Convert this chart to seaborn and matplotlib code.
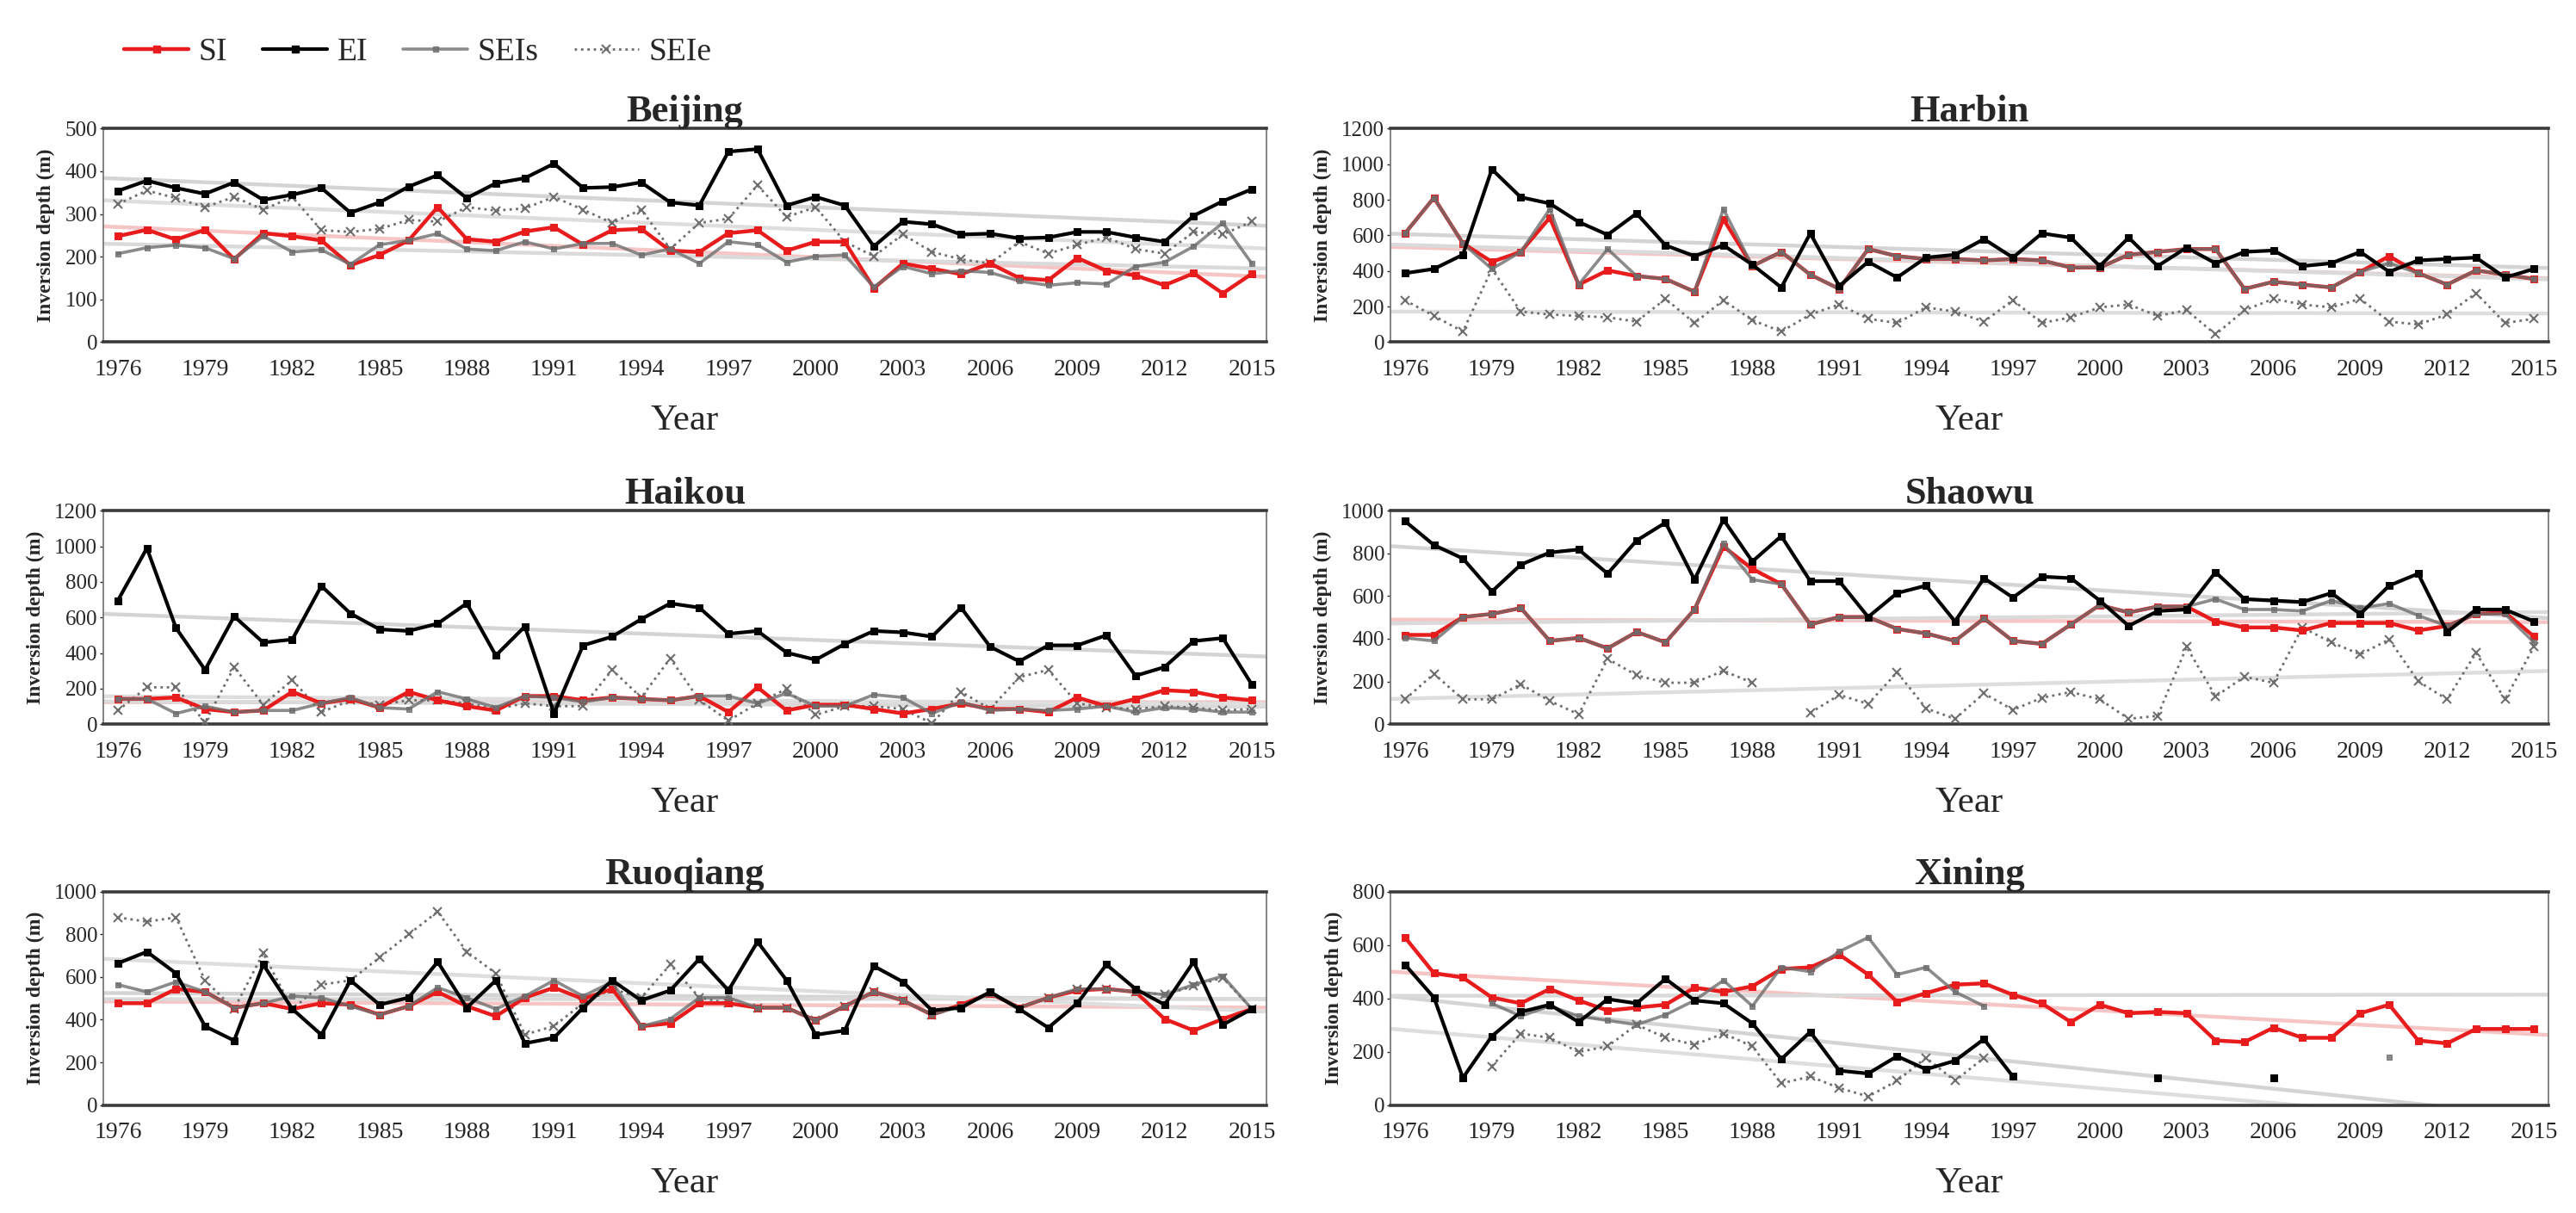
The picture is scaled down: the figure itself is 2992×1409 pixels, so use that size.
import numpy as np
import pandas as pd
import seaborn as sns
import matplotlib.pyplot as plt
from matplotlib.lines import Line2D

nan = np.nan
years = list(range(1976, 2016))

# Inversion depth (m), 1976-2015
beijing_si = [248, 263, 240, 263, 194, 255, 248, 238, 180, 204, 238, 316, 241, 235, 259, 269, 228, 262, 265, 214,
              211, 255, 262, 214, 235, 235, 126, 184, 172, 159, 184, 150, 145, 197, 167, 156, 133, 161, 114, 160]
beijing_ei = [354, 378, 361, 347, 374, 333, 345, 361, 303, 327, 364, 391, 337, 372, 384, 418, 361, 363, 374, 327,
              320, 446, 452, 320, 340, 320, 224, 282, 276, 252, 254, 243, 245, 258, 258, 245, 235, 296, 330, 358]
beijing_seis = [207, 221, 227, 221, 195, 248, 211, 216, 182, 228, 238, 254, 218, 214, 235, 218, 231, 231, 204, 218,
                184, 235, 228, 187, 201, 204, 129, 177, 160, 167, 163, 143, 133, 139, 136, 177, 187, 224, 279, 184]
beijing_seie = [323, 355, 337, 316, 340, 310, 340, 262, 258, 265, 286, 282, 316, 308, 313, 340, 310, 279, 310, 218,
                279, 289, 367, 293, 316, 235, 201, 252, 211, 194, 184, 235, 207, 228, 245, 218, 207, 258, 252, 282]

harbin_si = [611, 811, 555, 451, 507, 699, 323, 403, 371, 355, 283, 691, 427, 507, 379, 299, 523, 483, 467, 467,
             459, 467, 459, 419, 419, 491, 507, 523, 523, 299, 339, 323, 307, 395, 483, 387, 323, 403, 379, 355]
harbin_ei = [387, 411, 491, 971, 814, 779, 675, 603, 723, 544, 483, 544, 435, 307, 611, 315, 451, 363, 475, 491,
             579, 475, 611, 587, 427, 587, 427, 531, 443, 507, 515, 427, 443, 507, 395, 459, 467, 475, 363, 411]
harbin_seis = [611, 811, 555, 411, 507, 747, 323, 523, 371, 355, 283, 747, 427, 507, 379, 299, 523, 483, 467, 467,
               459, 467, 459, 419, 419, 491, 507, 523, 523, 299, 339, 323, 307, 395, 443, 387, 323, 403, 379, 355]
harbin_seie = [235, 147, 59, 411, 171, 155, 147, 139, 115, 243, 107, 235, 123, 59, 155, 211, 131, 107, 195, 171,
               115, 235, 107, 139, 195, 211, 147, 179, 43, 179, 243, 211, 195, 243, 115, 99, 155, 275, 107, 131]

haikou_si = [142, 142, 150, 85, 68, 77, 182, 117, 142, 93, 182, 134, 101, 77, 158, 158, 134, 150, 142, 134,
             158, 68, 207, 77, 109, 109, 85, 60, 85, 117, 85, 85, 68, 150, 101, 142, 191, 182, 150, 134]
haikou_ei = [695, 989, 541, 305, 606, 459, 476, 777, 622, 533, 524, 565, 679, 386, 549, 60, 443, 492, 590, 679,
             655, 508, 524, 402, 362, 451, 524, 516, 492, 655, 435, 353, 443, 443, 500, 272, 321, 467, 484, 223]
haikou_seis = [142, 142, 60, 101, 68, 77, 77, 117, 150, 93, 85, 182, 142, 93, 158, 150, 125, 150, 142, 134,
               158, 158, 117, 174, 101, 101, 166, 150, 60, 125, 77, 85, 77, 85, 101, 68, 93, 85, 68, 68]
haikou_seie = [77, 207, 207, 10, 321, 109, 248, 68, 134, 109, 134, 134, 117, 85, 117, 101, 101, 305, 150, 370,
               134, 20, 117, 199, 52, 101, 101, 85, 5, 182, 85, 264, 305, 117, 93, 85, 101, 93, 77, 85]

shaowu_si = [418, 418, 502, 516, 544, 390, 404, 355, 432, 383, 537, 832, 727, 656, 467, 502, 502, 446, 425, 390,
             495, 390, 376, 467, 558, 523, 551, 551, 481, 453, 453, 439, 474, 474, 474, 439, 460, 516, 523, 411]
shaowu_ei = [951, 839, 776, 621, 747, 804, 818, 705, 860, 944, 677, 958, 762, 881, 670, 670, 502, 614, 649, 481,
             684, 593, 691, 684, 579, 460, 530, 537, 712, 586, 579, 572, 614, 516, 649, 705, 432, 537, 537, 481]
shaowu_seis = [404, 390, 502, 516, 544, 390, 404, 355, 432, 383, 537, 846, 677, 656, 467, 502, 502, 446, 425, 390,
               495, 390, 376, 467, 558, 523, 551, 551, 586, 537, 537, 530, 579, 544, 565, 509, 460, 516, 516, 383]
shaowu_seie = [116, 236, 116, 116, 187, 109, 46, 306, 229, 194, 194, 250, 194, nan, 53, 137, 95, 243, 74, 25,
               144, 67, 123, 151, 116, 25, 39, 362, 130, 222, 194, 453, 383, 327, 397, 201, 116, 334, 116, 362]

ruoqiang_si = [477, 477, 544, 530, 456, 477, 450, 477, 470, 423, 463, 530, 463, 416, 503, 550, 497, 544, 369, 383,
               477, 477, 456, 456, 396, 463, 530, 490, 423, 470, 523, 456, 503, 537, 544, 530, 403, 349, 403, 450]
ruoqiang_ei = [664, 718, 617, 369, 302, 658, 450, 329, 584, 470, 503, 671, 456, 584, 289, 315, 456, 584, 490, 537,
               685, 537, 765, 584, 329, 349, 651, 577, 443, 456, 530, 450, 362, 477, 658, 544, 470, 671, 376, 450]
ruoqiang_seis = [564, 530, 577, 530, 456, 477, 510, 503, 463, 423, 463, 550, 503, 450, 510, 584, 510, 577, 369, 403,
                 503, 503, 456, 456, 396, 463, 530, 490, 423, 463, 523, 456, 503, 544, 544, 530, 517, 564, 604, 450]
ruoqiang_seie = [879, 859, 879, 584, 450, 711, 450, 564, 584, 691, 799, 906, 718, 617, 330, 370, 477, 544, 503, 658,
                 503, 477, 456, 456, 396, 463, 530, 490, 423, 463, 523, 456, 503, 544, 544, 530, 517, 557, 597, 450]

xining_si = [628, 494, 478, 403, 381, 435, 392, 354, 365, 376, 440, 424, 445, 510, 516, 564, 489, 387, 419, 451,
             456, 413, 381, 311, 376, 344, 349, 344, 242, 236, 290, 252, 252, 344, 376, 242, 231, 285, 285, 285]
xining_ei = [526, 403, 102, 258, 349, 376, 311, 397, 381, 473, 392, 381, 306, 172, 274, 129, 118, 183, 134, 166,
             247, 107, nan, nan, nan, nan, 102, nan, nan, nan, 102, nan, nan, nan, nan, nan, nan, nan, nan, nan]
xining_seis = [nan, nan, nan, 381, 333, 371, 333, 317, 301, 338, 392, 467, 371, 516, 500, 575, 628, 489, 516, 424,
               371, nan, nan, nan, nan, nan, nan, nan, nan, nan, nan, nan, nan, nan, 180, nan, nan, nan, nan, nan]
xining_seie = [nan, nan, nan, 145, 268, 252, 199, 220, 301, 252, 226, 268, 220, 81, 107, 64, 32, 91, 177, 91,
               177, nan, nan, nan, nan, nan, nan, nan, nan, nan, nan, nan, nan, nan, nan, nan, nan, nan, nan, nan]

stations = ["Beijing", "Harbin", "Haikou", "Shaowu", "Ruoqiang", "Xining"]
series_names = ["SI", "EI", "SEIs", "SEIe"]
data = {
    "Beijing": [beijing_si, beijing_ei, beijing_seis, beijing_seie],
    "Harbin": [harbin_si, harbin_ei, harbin_seis, harbin_seie],
    "Haikou": [haikou_si, haikou_ei, haikou_seis, haikou_seie],
    "Shaowu": [shaowu_si, shaowu_ei, shaowu_seis, shaowu_seie],
    "Ruoqiang": [ruoqiang_si, ruoqiang_ei, ruoqiang_seis, ruoqiang_seie],
    "Xining": [xining_si, xining_ei, xining_seis, xining_seie],
}
y_max = {"Beijing": 500, "Harbin": 1200, "Haikou": 1200, "Shaowu": 1000, "Ruoqiang": 1000, "Xining": 800}
y_step = {"Beijing": 100, "Harbin": 200, "Haikou": 200, "Shaowu": 200, "Ruoqiang": 200, "Xining": 200}

styles = {
    "SI": dict(color="#e81c1c", lw=3.2, marker="s", ms=6, mec="#e81c1c", zorder=4),
    "EI": dict(color="black", lw=3.0, marker="s", ms=6, mec="black", zorder=6),
    "SEIs": dict(color="#6e6e6e", lw=2.6, marker="s", ms=5, mec="#6e6e6e", alpha=0.8, zorder=5),
    "SEIe": dict(color="#6e6e6e", lw=2.0, ls=":", marker="x", ms=7, mew=1.5, mec="#6e6e6e", zorder=3),
}
trend_colors = {"SI": "#f6c6c6", "EI": "#d4d4d4", "SEIs": "#dadada", "SEIe": "#dedede"}

sns.set_style("white")
plt.rcParams["font.family"] = ["Liberation Serif", "DejaVu Serif"]


def draw_segments(ax, vals, **kw):
    # split at missing years so gaps stay open
    s = pd.Series(vals, index=years, dtype=float)
    ok = s.notna()
    runs = s.isna().cumsum()[ok]
    for _, seg in s[ok].groupby(runs):
        sns.lineplot(x=seg.index.values, y=seg.values, ax=ax, legend=False, **kw)


fig = plt.figure(figsize=(29.92, 14.09), dpi=100)
lefts = [0.0401, 0.5398]
widths = [0.4515, 0.4495]
bottoms = [0.718, 0.403, 0.089]

for i, name in enumerate(stations):
    row, col = divmod(i, 2)
    ax = fig.add_axes([lefts[col], bottoms[row], widths[col], 0.176])
    ax.set_xlim(1975.5, 2015.5)
    ax.set_ylim(0, y_max[name])

    # linear trend lines behind the series
    for sname, vals in zip(series_names, data[name]):
        s = pd.Series(vals, index=years, dtype=float).dropna()
        sns.regplot(x=s.index.values.astype(float), y=s.values, ax=ax, scatter=False, ci=None,
                    truncate=False, line_kws=dict(color=trend_colors[sname], lw=3.2, zorder=1))
    ax.set_xlim(1975.5, 2015.5)

    for sname, vals in zip(series_names[::-1], data[name][::-1]):
        draw_segments(ax, vals, **styles[sname])

    ax.set_ylim(0, y_max[name])
    ax.set_yticks(np.arange(0, y_max[name] + 1, y_step[name]))
    ax.set_xticks(years[::3])
    ax.set_xticklabels([str(y) for y in years[::3]])
    ax.set_xticks(np.arange(1975.5, 2016, 1), minor=True)
    ax.tick_params(axis="x", which="major", length=0, pad=14, labelsize=20)
    ax.tick_params(axis="x", which="minor", direction="in", length=6, width=1.3, color="black")
    ax.tick_params(axis="y", direction="out", length=3, width=1, labelsize=18, pad=2, left=True)

    for side in ["top", "bottom"]:
        ax.spines[side].set_color("#3a3a3a")
        ax.spines[side].set_linewidth(2.6)
    for side in ["left", "right"]:
        ax.spines[side].set_color("#7a7a7a")
        ax.spines[side].set_linewidth(1.3)

    ax.set_title(name, fontsize=32, fontweight="bold", pad=6)
    ax.set_xlabel("Year", fontsize=31, labelpad=20)
    ax.set_ylabel("Inversion depth (m)", fontsize=17, fontweight="bold", labelpad=8)

handles = [Line2D([], [], **{k: v for k, v in styles[n].items() if k != "zorder"}) for n in series_names]
fig.legend(handles, series_names, loc="upper left", bbox_to_anchor=(0.037, 0.993), ncol=4,
           frameon=False, prop={"family": "Liberation Serif", "size": 27},
           handlelength=2.0, handletextpad=0.3, columnspacing=1.1)

fig.savefig("out.png", dpi=100)
